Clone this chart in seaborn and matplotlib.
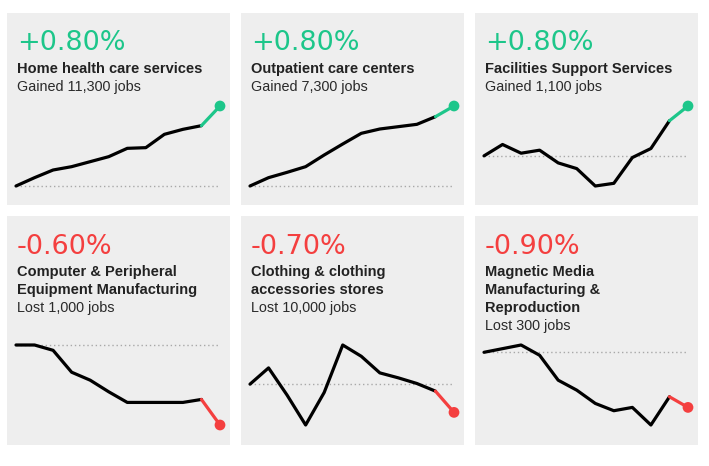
import matplotlib
matplotlib.use("Agg")
import matplotlib.pyplot as plt
import seaborn as sns

# data (relative level, first month = 0)
months = [0, 1, 2, 3, 4, 5, 6, 7, 8, 9, 10, 11]

pct_labels = ["+0.80%", "+0.80%", "+0.80%", "-0.60%", "-0.70%", "-0.90%"]
titles = [
    "Home health care services",
    "Outpatient care centers",
    "Facilities Support Services",
    "Computer & Peripheral\nEquipment Manufacturing",
    "Clothing & clothing\naccessories stores",
    "Magnetic Media\nManufacturing &\nReproduction",
]
subtitles = [
    "Gained 11,300 jobs",
    "Gained 7,300 jobs",
    "Gained 1,100 jobs",
    "Lost 1,000 jobs",
    "Lost 10,000 jobs",
    "Lost 300 jobs",
]

home_health = [0, 25, 48, 58, 73, 88, 113, 115, 155, 170, 181, 240]
outpatient = [0, 25, 41, 58, 93, 126, 158, 171, 178, 185, 208, 240]
facilities = [0, 34, 8, 17, -21, -38, -90, -82, -5, 22, 105, 149]
computer = [0, 0, -16, -82, -106, -141, -173, -173, -173, -173, -164, -241]
clothing = [0, 49, -33, -123, -25, 118, 84, 34, 19, 2, -21, -85]
magnetic = [0, 11, 22, -9, -84, -114, -154, -176, -166, -219, -134, -166]

series = [home_health, outpatient, facilities, computer, clothing, magnetic]

GREEN = "#1dc68a"
RED = "#f43f3f"

sns.set_style("white")
plt.rcParams["font.family"] = ["Liberation Sans", "DejaVu Sans"]

W, H = 709, 466
fig = plt.figure(figsize=(W / 100, H / 100), dpi=100)


def box(left, top, width, height):
    return [left / W, 1 - (top + height) / H, width / W, height / H]


col_left = [7, 241, 475]
row_top = [13, 216]
row_h = [192, 229]
line_top = [106, 345]
pct_base = [50, 254]
title_base = [73, 276]

for i, vals in enumerate(series):
    r, c = divmod(i, 3)
    left = col_left[c]
    color = GREEN if vals[-1] > vals[-2] else RED

    bg = fig.add_axes(box(left, row_top[r], 223, row_h[r]))
    bg.set_facecolor("#eeeeee")
    bg.set_xticks([])
    bg.set_yticks([])
    for s in bg.spines.values():
        s.set_visible(False)

    # texts
    fig.text((left + 10) / W, 1 - pct_base[r] / H, pct_labels[i],
             color=color, fontsize=19.5, family="DejaVu Sans",
             va="baseline", ha="left")
    lines = titles[i].split("\n")
    for k, ln in enumerate(lines):
        fig.text((left + 10) / W, 1 - (title_base[r] + 18 * k) / H, ln,
                 color="#222222", fontsize=10.5, fontweight="bold",
                 va="baseline", ha="left")
    fig.text((left + 10) / W, 1 - (title_base[r] + 18 * len(lines)) / H,
             subtitles[i], color="#2a2a2a", fontsize=10.4,
             va="baseline", ha="left")

    # sparkline
    ax = fig.add_axes(box(left + 9, line_top[r], 204, 80))
    ax.set_facecolor("none")
    ax.axhline(0, xmax=0.99, color="#a8a8a8", lw=1.0, ls=(0, (1, 2)),
               zorder=1)
    sns.lineplot(x=months[:11], y=vals[:11], ax=ax, color="black",
                 lw=2.3, zorder=3)
    sns.lineplot(x=months[10:], y=vals[10:], ax=ax, color=color,
                 lw=2.3, zorder=3)
    sns.scatterplot(x=months[-1:], y=vals[-1:], ax=ax, color=color,
                    s=60, edgecolor="none", zorder=4, clip_on=False)
    for ln in ax.lines:
        ln.set_clip_on(False)
    ax.set_xlim(months[0], months[-1])
    ax.set_ylim(min(vals), max(vals))
    ax.axis("off")

fig.savefig("out.png", dpi=100, facecolor="white")
